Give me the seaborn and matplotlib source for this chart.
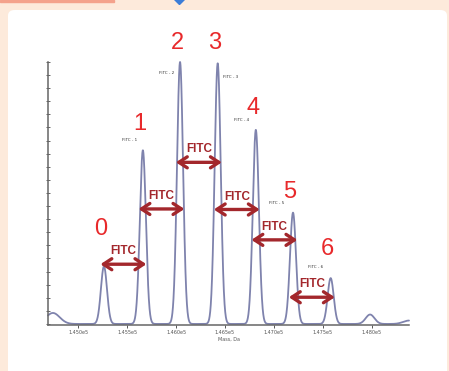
import numpy as np
import pandas as pd
import matplotlib
matplotlib.use("Agg")
import matplotlib.pyplot as plt
import seaborn as sns
from matplotlib.patches import FancyBboxPatch, Rectangle
from matplotlib.lines import Line2D

# peak data (mass in Da, intensity in % of max)
peak_mass = [145262, 145660, 146040, 146425, 146815, 147195, 147580]
peak_height = [22.0, 66.3, 100.0, 99.5, 74.1, 42.5, 17.5]
peak_names = ["0", "1", "2", "3", "4", "5", "6"]
fitc_labels = ["FITC - 1", "FITC - 2", "FITC - 3", "FITC - 4", "FITC - 5", "FITC - 6"]
# minor features: left shoulder, bump near 1.48e5, rise at right end
minor_mass = [144740, 147983, 148381]
minor_height = [4.2, 3.6, 1.3]
minor_width = [70, 45, 60]
peak_sigma = 31

# layout of annotations
num_y = [36.1, 76.4, 107.2, 107.2, 82.5, 50.2, 28.5]
arrow_y = [22.8, 43.9, 61.7, 43.7, 32.1, 10.2]
small_x = [145519, 145907, 146556, 146669, 147032, 147430]
small_y = [70.3, 95.8, 94.3, 77.9, 46.0, 21.9]

mass = np.linspace(144690, 148381, 4000)
signal = np.zeros_like(mass)
for m, h in zip(peak_mass, peak_height):
    signal += h * np.exp(-0.5 * ((mass - m) / peak_sigma) ** 2)
for m, h, w in zip(minor_mass, minor_height, minor_width):
    signal += h * np.exp(-0.5 * ((mass - m) / w) ** 2)
df = pd.DataFrame({"Mass": mass, "Intensity": signal})

sns.set_style("white")
fig = plt.figure(figsize=(4.49, 3.71), dpi=100)
fig.patch.set_facecolor("#fdeadb")

# white card and page decorations
fig.add_artist(FancyBboxPatch((8 / 449, -0.05), 439 / 449, 0.05 + 361 / 371,
                              boxstyle="round,pad=0,rounding_size=0.015",
                              transform=fig.transFigure, facecolor="white",
                              edgecolor="none", zorder=0))
fig.add_artist(Rectangle((0, 1 - 2 / 371), 114 / 449, 2 / 371,
                         transform=fig.transFigure, color="#f4a28c", zorder=1))
fig.add_artist(Line2D([179 / 449], [1 + 1 / 371], marker="D", markersize=5,
                      color="#3b7dd8", transform=fig.transFigure, zorder=1))

ax = fig.add_axes([48 / 449, 1 - 325 / 371, 361 / 449, 263 / 371])
ax.set_facecolor("none")
sns.lineplot(data=df, x="Mass", y="Intensity", ax=ax, color="#7f83ad",
             linewidth=1.3, clip_on=False)
ax.set_xlim(144690, 148381)
ax.set_ylim(-0.4, 100)

for s in ["top", "right"]:
    ax.spines[s].set_visible(False)
for s in ["left", "bottom"]:
    ax.spines[s].set_color("#666666")
    ax.spines[s].set_linewidth(1.1)

ax.set_xticks(np.arange(145000, 148001, 500))
ax.set_xticklabels(["1.450e5", "1.455e5", "1.460e5", "1.465e5",
                    "1.470e5", "1.475e5", "1.480e5"])
ax.set_yticks(np.arange(0, 101, 5))
ax.set_yticklabels([])
ax.tick_params(axis="x", direction="out", length=2, width=0.7, colors="#555555",
               labelsize=3.5, pad=1.5, bottom=True)
ax.tick_params(axis="y", direction="inout", length=2.5, width=0.7,
               colors="#666666", left=True)
ax.set_xlabel("Mass, Da", fontsize=3.5, color="#555555", labelpad=1.5)
ax.set_ylabel("")

red = "#e8292b"
dark_red = "#a3272c"
for m, name, y in zip(peak_mass, peak_names, num_y):
    ax.text(m - 30, y, name, color=red, fontsize=17, family=["Liberation Sans"],
            ha="center", va="center", clip_on=False)

for i in range(len(peak_mass) - 1):
    mid = (peak_mass[i] + peak_mass[i + 1]) / 2
    ax.annotate("", xy=(mid + 235, arrow_y[i]), xytext=(mid - 235, arrow_y[i]),
                arrowprops=dict(arrowstyle="<->,head_length=0.5,head_width=0.33",
                                color=dark_red, lw=2.4, mutation_scale=12,
                                shrinkA=0, shrinkB=0))
    ax.text(mid, arrow_y[i] + 4.9, "FITC", color=dark_red, fontsize=8.5,
            fontweight="bold", family=["Liberation Sans"], ha="center", va="center")

for x, y, lab in zip(small_x, small_y, fitc_labels):
    ax.text(x, y, lab, fontsize=3.0, color="#333333", ha="center", va="center")

fig.savefig("out.png", dpi=100, facecolor=fig.get_facecolor())
